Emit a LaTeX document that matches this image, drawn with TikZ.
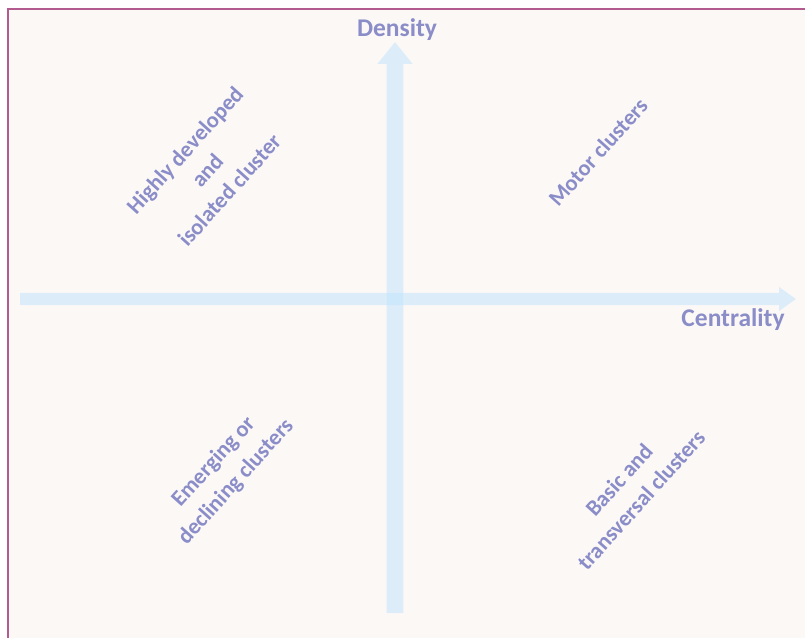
\documentclass[tikz,border=0pt]{standalone}
\usepackage{fontspec}
\setmainfont{Carlito}
\usepackage{xcolor}
\usepackage{tikz}
\usetikzlibrary{arrows.meta}
\definecolor{paper}{HTML}{FCF8F6}
\definecolor{frame}{HTML}{B35A8E}
\definecolor{axis}{HTML}{BEE4FC}
\definecolor{ink}{HTML}{8A8DC8}
\tikzset{
  vaxis/.style={draw=axis, line width=9.6pt, -{Triangle[width=19.3pt,length=12.5pt]}},
  haxis/.style={draw=axis, line width=7.1pt, -{Triangle[width=13pt,length=9.6pt]}},
  lab/.style={text=ink, font=\fontsize{14.5}{17}\selectfont\bfseries},
  quad/.style={text=ink, font=\fontsize{12.8}{17}\selectfont\bfseries, align=center, rotate=48, inner sep=0pt},
}

\begin{document}
\begin{tikzpicture}[x=0.02cm, y=-0.02cm]
  \useasboundingbox (0,0) rectangle (805,637);
  \clip (0,0) rectangle (805,637);
  \fill[white] (0,0) rectangle (805,637);
  \filldraw[fill=paper, draw=frame, line width=1.2pt] (8,9) rectangle (830,660);

  \coordinate (vbot) at (395,613);
  \coordinate (vtop) at (395,42);
  \coordinate (hleft) at (20,299);
  \coordinate (hright) at (796,299);

  % axes
  \begin{scope}[opacity=0.5, transparency group]
    \draw[vaxis] (vbot) -- (vtop);
  \end{scope}
  \begin{scope}[opacity=0.5, transparency group]
    \draw[haxis] (hleft) -- (hright);
  \end{scope}

  \node[lab] (density) at (397,30) {Density};
  \node[lab] (centrality) at (733,320) {Centrality};

  % quadrants
  \node[quad] (isolated) at (207,170) {Highly developed\\and\\isolated cluster};
  \node[quad] (motor) at (598,152) {Motor clusters};
  \node[quad] (emerging) at (225,472) {Emerging or\\declining clusters};
  \node[quad] (basic) at (630,490) {Basic and\\transversal clusters};
\end{tikzpicture}
\end{document}
